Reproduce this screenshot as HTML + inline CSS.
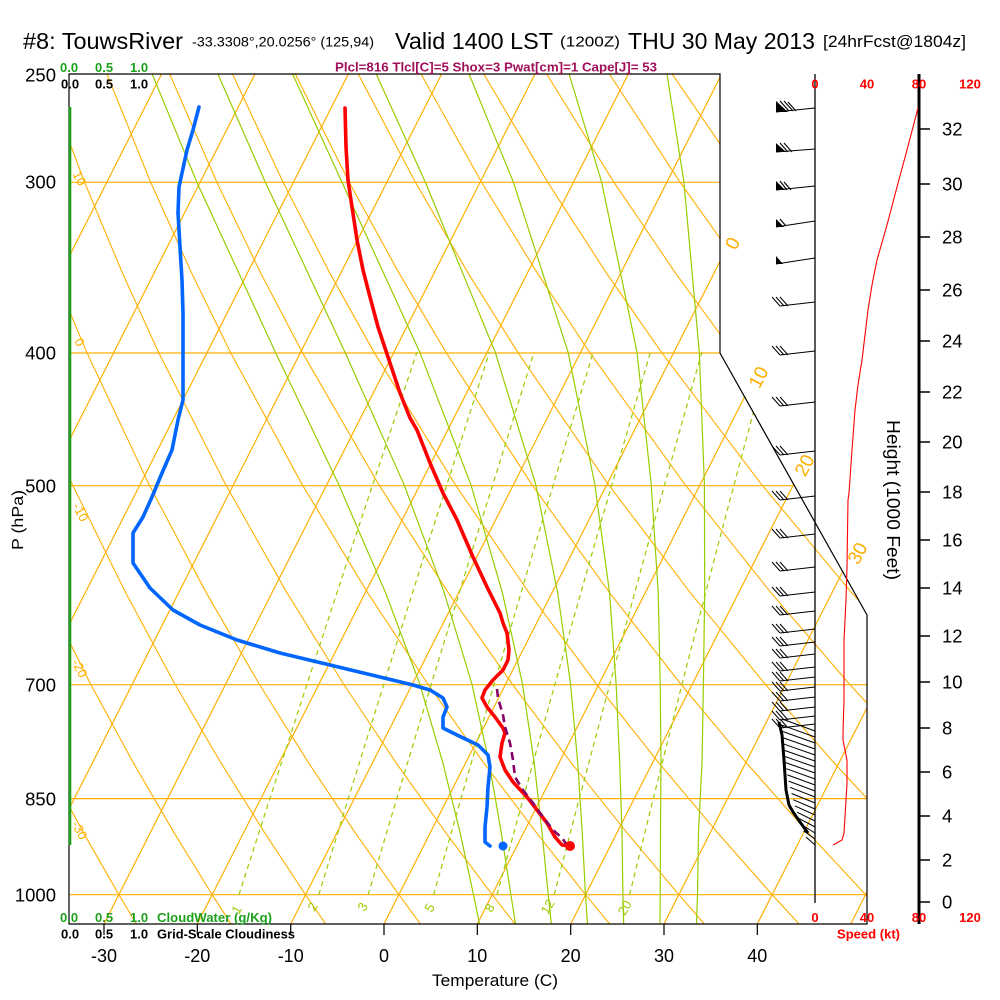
<!DOCTYPE html>
<html><head><meta charset="utf-8"><style>html,body{margin:0;padding:0;background:#fff;}svg{display:block;}</style></head>
<body>
<svg xmlns="http://www.w3.org/2000/svg" width="1000" height="1000" viewBox="0 0 1000 1000" font-family="'Liberation Sans', Arial, Helvetica, sans-serif">
<defs><clipPath id="c"><polygon points="69,74 720,74 720,353 867,615 867,924 69,924"/></clipPath></defs>
<rect width="1000" height="1000" fill="#fff"/>
<g clip-path="url(#c)" fill="none">
 <g stroke="#FFB000" stroke-width="1.2">
  <path d="M69,182.3H900 M69,353H900 M69,485.7H900 M69,684.7H900 M69,798.6H900 M69,894.7H900"/>
  <path d="M-269.3,924L161.7,74 M-176,924L255,74 M-82.7,924L348.3,74 M10.7,924L441.7,74 M104,924L535,74 M197.3,924L628.3,74 M290.7,924L721.7,74 M384,924L815,74 M477.3,924L908.3,74 M570.7,924L1001.7,74 M664,924L1095,74 M757.3,924L1188.3,74 M850.7,924L1281.7,74"/>
 </g>
 <g stroke="#FFB000" stroke-width="1.1">
  <polyline points="139.5,929.2 118.9,894.7 83.2,832.3 45.7,762.6"/>
  <polyline points="234.4,929.2 212.2,894.7 173.8,832.3 133.2,762.6 90.3,683.5 44.7,592.3"/>
  <polyline points="329.3,929.2 305.5,894.7 264.4,832.3 220.8,762.6 174.6,683.5 125.4,592.3 72.3,484.3 14.9,352.2"/>
  <polyline points="424.2,929.2 398.9,894.7 354.9,832.3 308.4,762.6 258.9,683.5 206.0,592.3 148.9,484.3 86.7,352.2 53.4,273.2"/>
  <polyline points="519.1,929.2 492.2,894.7 445.5,832.3 395.9,762.6 343.2,683.5 286.7,592.3 225.5,484.3 158.5,352.2 122.5,273.2 84.4,181.9 44.1,74"/>
  <polyline points="614.0,929.2 585.5,894.7 536.1,832.3 483.5,762.6 427.5,683.5 367.4,592.3 302.0,484.3 230.4,352.2 191.7,273.2 150.5,181.9 106.9,74"/>
  <polyline points="708.9,929.2 678.9,894.7 626.6,832.3 571.0,762.6 511.8,683.5 448.0,592.3 378.6,484.3 302.2,352.2 260.8,273.2 216.7,181.9 169.7,74"/>
  <polyline points="803.8,929.2 772.2,894.7 717.2,832.3 658.6,762.6 596.0,683.5 528.7,592.3 455.1,484.3 374.0,352.2 329.9,273.2 282.9,181.9 232.5,74"/>
  <polyline points="898.7,929.2 865.6,894.7 807.7,832.3 746.2,762.6 680.3,683.5 609.3,592.3 531.7,484.3 445.9,352.2 399.1,273.2 349.0,181.9 295.3,74"/>
  <polyline points="993.6,929.2 958.9,894.7 898.3,832.3 833.8,762.6 764.6,683.5 690.0,592.3 608.3,484.3 517.7,352.2 468.2,273.2 415.2,181.9 358.2,74"/>
  <polyline points="1088.5,929.2 1052.2,894.7 988.9,832.3 921.4,762.6 848.9,683.5 770.6,592.3 684.8,484.3 589.5,352.2 537.4,273.2 481.3,181.9 421.0,74"/>
  <polyline points="1079.5,832.3 1008.9,762.6 933.2,683.5 851.3,592.3 761.4,484.3 661.4,352.2 606.5,273.2 547.5,181.9 483.8,74"/>
  <polyline points="1017.5,683.5 931.9,592.3 837.9,484.3 733.2,352.2 675.6,273.2 613.7,181.9 546.6,74"/>
  <polyline points="1012.6,592.3 914.5,484.3 805.0,352.2 744.8,273.2 679.9,181.9 609.4,74"/>
  <polyline points="991.1,484.3 876.8,352.2 814.0,273.2 746.0,181.9 672.2,74"/>
 </g>
 <g stroke="#99CC00" stroke-width="1.2">
  <polyline points="480.6,929.2 473.5,894.7 460.0,832.3 442.8,762.6 419.6,683.5 385.4,592.3 338.6,484.3 275.4,352.2 196.7,181.9 152.2,74"/>
  <polyline points="516.3,929.2 510.9,894.7 501.2,832.3 489.1,762.6 471.8,683.5 444.1,592.3 403.9,484.3 345.0,352.2 265.2,181.9 217.9,74"/>
  <polyline points="551.9,929.2 548.2,894.7 542.0,832.3 534.2,762.6 522.4,683.5 502.3,592.3 470.8,484.3 419.8,352.2 341.8,181.9 292.6,74"/>
  <polyline points="587.8,929.2 585.5,894.7 582.2,832.3 577.7,762.6 570.5,683.5 557.6,592.3 535.7,484.3 495.2,352.2 425.2,181.9 376.2,74"/>
  <polyline points="623.8,929.2 622.9,894.7 622.0,832.3 619.7,762.6 616.1,683.5 609.5,592.3 594.8,484.3 568.1,352.2 513.3,181.9 469.0,74"/>
  <polyline points="660.0,929.2 660.2,894.7 660.5,832.3 661.0,762.6 660.2,683.5 658.2,592.3 651.2,484.3 637.0,352.2 601.6,181.9 569.1,74"/>
  <polyline points="696.3,929.2 697.5,894.7 698.5,832.3 702.0,762.6 703.4,683.5 704.7,592.3 704.4,484.3 699.3,352.2 683.9,181.9 667.0,74"/>
 </g>
 <g stroke="#99CC00" stroke-width="1.2" stroke-dasharray="5,4">
  <polyline points="239.0,894.7 269.9,798.5 307.2,683.5 354.0,540.8 416.9,352.2"/>
  <polyline points="318.8,894.7 348.3,798.5 384.0,683.5 428.9,540.8 489.4,352.2"/>
  <polyline points="368.2,894.7 396.8,798.5 431.5,683.5 475.2,540.8 534.1,352.2"/>
  <polyline points="433.6,894.7 461.0,798.5 494.3,683.5 536.4,540.8 593.2,352.2"/>
  <polyline points="497.0,894.7 523.2,798.5 555.1,683.5 595.6,540.8 650.4,352.2"/>
  <polyline points="554.2,894.7 579.3,798.5 610.0,683.5 648.9,540.8 701.8,352.2"/>
  <polyline points="629.6,894.7 653.3,798.5 682.2,683.5 719.1,540.8 769.4,352.2"/>
 </g>
</g>

<!-- frame -->
<path d="M69,74H720V353L867,615V924H69Z" fill="none" stroke="#000" stroke-width="1.2"/>
<path d="M104,924V935 M197.3,924V935 M290.7,924V935 M384,924V935 M477.3,924V935 M570.7,924V935 M664,924V935 M757.3,924V935" stroke="#000" stroke-width="1.2"/>
<line x1="70" y1="107" x2="70" y2="845" stroke="#1EA01E" stroke-width="2.6"/>

<!-- wind speed axis / height axis -->
<line x1="815" y1="74" x2="815" y2="903" stroke="#000" stroke-width="1.3"/>
<line x1="919" y1="74" x2="919" y2="924" stroke="#000" stroke-width="3"/>
<path d="M919,902H930 M919,860H930 M919,816H930 M919,772H930 M919,728H930 M919,682H930 M919,636H930 M919,588H930 M919,540H930 M919,492H930 M919,442H930 M919,392H930 M919,341H930 M919,290H930 M919,237H930 M919,184H930 M919,129H930" stroke="#000" stroke-width="1.5"/>
<g font-size="18.5" fill="#000">
<text x="942" y="908.5">0</text><text x="942" y="866.5">2</text><text x="942" y="822.5">4</text><text x="942" y="778.5">6</text><text x="942" y="734.5">8</text>
<text x="942" y="688.5">10</text><text x="942" y="642.5">12</text><text x="942" y="594.5">14</text><text x="942" y="546.5">16</text><text x="942" y="498.5">18</text>
<text x="942" y="448.5">20</text><text x="942" y="398.5">22</text><text x="942" y="347.5">24</text><text x="942" y="296.5">26</text><text x="942" y="243.5">28</text>
<text x="942" y="190.5">30</text><text x="942" y="135.5">32</text>
</g>
<text transform="translate(887,500) rotate(90)" text-anchor="middle" font-size="18" textLength="160" lengthAdjust="spacingAndGlyphs">Height (1000 Feet)</text>

<!-- speed profile -->
<polyline fill="none" stroke="#FF0000" stroke-width="1.1" points="833,845 842,840 844,833 845,817 846,800 847,783 847,760 843,740 843,733 844,700 844,640 846,600 847,567 848,500 849,493 852,450 855,410 858,385 862,360 865,335 868,310 872,285 877,260 887,225 897,187 907,150 918,108"/>

<!-- wind barbs -->
<path d="M815,108L776,112 M815,149L776,152 M815,186L776,190 M815,221L776,227 M815,258L776,264
 M780,101L789,111 M784,101L793,111 M788,102L796,111
 M780,143L788,152 M784,143L792,152
 M780,181L787,190 M784,182L791,190
 M780,219L786,226" fill="none" stroke="#000" stroke-width="1.1"/>
<path d="M776,112L776,101L788,112Z M776,152L776,143L786,152Z M776,190L776,181L785,190Z M776,227L776,219L784,227Z M776,264L776,256L783,264Z" fill="#000"/>
<path fill="none" stroke="#000" stroke-width="1" d="
M815,302L780,306 M780,306L772,297 M784,306L776,297 M788,306L780,297
M815,351L780,355 M780,355L772,346 M784,355L776,346 M788,355L780,346
M815,402L780,406 M780,406L772,397 M784,406L776,397 M788,406L780,397
M815,451L780,455 M780,455L772,446 M784,455L776,446 M788,455L780,446
M815,496L780,500 M780,500L772,491 M784,500L776,491 M788,500L780,491
M815,534L780,538 M780,538L772,529 M784,538L776,529 M788,538L780,529
M815,567L780,571 M780,571L772,562 M784,571L776,562 M788,571L780,562
M815,592L780,596 M780,596L772,587 M784,596L776,587 M788,596L780,587
M815,611L780,615 M780,615L772,606 M784,615L776,606 M788,615L780,606
M815,629L780,633 M780,633L772,624 M784,633L776,624 M788,633L780,624
M815,642L780,646 M780,646L772,637 M784,646L776,637 M788,646L780,637
M815,654L780,658 M780,658L772,649 M784,658L776,649 M788,658L780,649
M815,667L780,671 M780,671L772,662 M784,671L776,662 M788,671L780,662
M815,677L780,681 M780,681L772,672 M784,681L776,672 M788,681L780,672
M815,687L780,691 M780,691L772,682 M784,691L776,682 M788,691L780,682
M815,697L780,701 M780,701L772,692 M784,701L776,692 M788,701L780,692
M815,707L780,711 M780,711L772,702 M784,711L776,702 M788,711L780,702
M815,716L780,720 M780,720L772,711 M784,720L776,711 M788,720L780,711
M815,724L780,728 M780,728L772,719 M784,728L776,719 M788,728L780,719
M815,731L782,719 M815,737L782.1,725.2 M815,743L782.3,731.4 M815,749L782.6,737.6 M815,755L783.1,743.8
M815,761L783.7,750.1 M815,767L784.4,756.3 M815,773L785.3,762.5 M815,779L786.3,768.7 M815,785L787.4,774.9
M815,791L788.6,781.1 M815,797L790,787.3 M815,803L791.6,793.5 M815,809L793.2,799.7 M815,815L795,805.9
M815,821L797,812.2 M815,827L799,818.4 M815,833L801.2,824.6 M815,839L803.5,830.8 M815,845L806,837"/>
<polyline fill="none" stroke="#000" stroke-width="3" points="779,722 782,735 784,760 786,790 789,805 793,812 800,822 808,833"/>

<!-- data curves -->
<polyline fill="none" stroke="#0066FF" stroke-width="3.6" stroke-linejoin="round" stroke-linecap="round" points="199,107 193,130 187,150 182,173 179,187 178,213 180,247 182,280 183,313 183,353 183,400 178,420 172,450 162,473 152,497 143,517 133,533 133,563 150,588 173,610 200,625 237,640 280,653 330,665 380,677 413,685 430,690 443,698 447,707 443,717 443,728 457,735 478,745 488,755 490,767 488,787 487,807 485,827 485,842 490,846"/>
<polyline fill="none" stroke="#FF0000" stroke-width="3.6" stroke-linejoin="round" stroke-linecap="round" points="345,108 346,147 348,180 352,207 357,240 363,270 370,297 378,327 388,357 400,393 410,418 417,430 430,463 443,493 457,520 473,557 487,587 500,613 503,623 507,633 509,650 508,660 503,670 493,680 485,690 482,698 487,707 495,717 503,728 505,733 502,743 500,757 505,770 513,782 527,797 537,810 547,823 555,837 562,845 570,846"/>
<polyline fill="none" stroke="#880066" stroke-width="2.6" stroke-dasharray="8,5" points="497,689 498,698 500,705 503,715 505,727 510,743 513,760 515,777 523,790 533,803 543,817 553,830 562,838 567,845"/>
<circle cx="570" cy="846" r="5" fill="#FF0000"/>
<circle cx="503" cy="846" r="4.5" fill="#0066FF"/>

<!-- title -->
<text x="23" y="49" font-size="23" textLength="160" lengthAdjust="spacingAndGlyphs">#8: TouwsRiver</text>
<text x="192" y="46.5" font-size="14" textLength="182" lengthAdjust="spacingAndGlyphs">-33.3308°,20.0256° (125,94)</text>
<text x="395" y="49" font-size="23" textLength="158" lengthAdjust="spacingAndGlyphs">Valid 1400 LST</text>
<text x="560" y="46.5" font-size="15" textLength="60" lengthAdjust="spacingAndGlyphs">(1200Z)</text>
<text x="628" y="49" font-size="23" textLength="187" lengthAdjust="spacingAndGlyphs">THU 30 May 2013</text>
<text x="823" y="47" font-size="17" textLength="143" lengthAdjust="spacingAndGlyphs">[24hrFcst@1804z]</text>
<text x="335" y="71.5" font-size="13" font-weight="bold" fill="#A0105A" textLength="322" lengthAdjust="spacingAndGlyphs">Plcl=816 Tlcl[C]=5 Shox=3 Pwat[cm]=1 Cape[J]= 53</text>

<!-- small scales -->
<g font-size="13" font-weight="bold">
<g fill="#1EA01E"><text x="60" y="72">0.0</text><text x="95" y="72">0.5</text><text x="130" y="72">1.0</text></g>
<g fill="#000"><text x="61" y="88.5">0.0</text><text x="95" y="88.5">0.5</text><text x="130" y="88.5">1.0</text></g>
<g fill="#FF0000" text-anchor="middle"><text x="815" y="88.5">0</text><text x="867" y="88.5">40</text><text x="919" y="88.5">80</text><text x="970" y="88.5">120</text></g>
<g fill="#1EA01E"><text x="60" y="922">0.0</text><text x="95" y="922">0.5</text><text x="130" y="922">1.0</text><text x="157" y="922" textLength="115" lengthAdjust="spacingAndGlyphs">CloudWater (g/Kg)</text></g>
<g fill="#000"><text x="61" y="938.5">0.0</text><text x="95" y="938.5">0.5</text><text x="130" y="938.5">1.0</text><text x="157" y="938.5" textLength="138" lengthAdjust="spacingAndGlyphs">Grid-Scale Cloudiness</text></g>
<g fill="#FF0000" text-anchor="middle"><text x="815" y="922">0</text><text x="867" y="922">40</text><text x="919" y="922">80</text><text x="970" y="922">120</text></g>
<text x="837" y="938.5" fill="#FF0000" textLength="63" lengthAdjust="spacingAndGlyphs">Speed (kt)</text>
</g>

<!-- pressure labels -->
<g font-size="18.5" text-anchor="end">
<text x="56" y="81.5">250</text><text x="56" y="188.5">300</text><text x="56" y="359.5">400</text><text x="56" y="492.5">500</text>
<text x="56" y="691.5">700</text><text x="56" y="805.5">850</text><text x="56" y="901.5">1000</text>
</g>
<text transform="translate(23,520) rotate(-90)" text-anchor="middle" font-size="16" textLength="60" lengthAdjust="spacingAndGlyphs">P (hPa)</text>

<!-- temperature axis -->
<g font-size="18" text-anchor="middle">
<text x="104" y="962">-30</text><text x="197.3" y="962">-20</text><text x="290.7" y="962">-10</text><text x="384" y="962">0</text>
<text x="477.3" y="962">10</text><text x="570.7" y="962">20</text><text x="664" y="962">30</text><text x="757.3" y="962">40</text>
</g>
<text x="432" y="986" font-size="17" textLength="126" lengthAdjust="spacingAndGlyphs">Temperature (C)</text>

<!-- isotherm labels -->
<g fill="#FFB000" font-size="19" text-anchor="middle">
<text transform="translate(732,243) rotate(-62)" y="7">0</text>
<text transform="translate(758,377) rotate(-62)" y="7">10</text>
<text transform="translate(804,465) rotate(-62)" y="7">20</text>
<text transform="translate(857,553) rotate(-62)" y="7">30</text>
</g>
<!-- dry adiabat labels -->
<g fill="#FFB000" font-size="13" text-anchor="middle">
<text transform="translate(80,178) rotate(62)" y="5">10</text>
<text transform="translate(80,342) rotate(62)" y="5">0</text>
<text transform="translate(81,512) rotate(62)" y="5">-10</text>
<text transform="translate(80,668) rotate(62)" y="5">-20</text>
<text transform="translate(80,830) rotate(62)" y="5">-30</text>
</g>
<!-- mixing ratio labels -->
<g fill="#99CC00" font-size="13" text-anchor="middle">
<text transform="translate(237,910) rotate(-60)" y="4">1</text>
<text transform="translate(313,907) rotate(-60)" y="4">2</text>
<text transform="translate(363,907) rotate(-60)" y="4">3</text>
<text transform="translate(430,908) rotate(-60)" y="4">5</text>
<text transform="translate(490,908) rotate(-60)" y="4">8</text>
<text transform="translate(548,907) rotate(-60)" y="4">12</text>
<text transform="translate(625,908) rotate(-60)" y="4">20</text>
</g>
</svg>
</body></html>
